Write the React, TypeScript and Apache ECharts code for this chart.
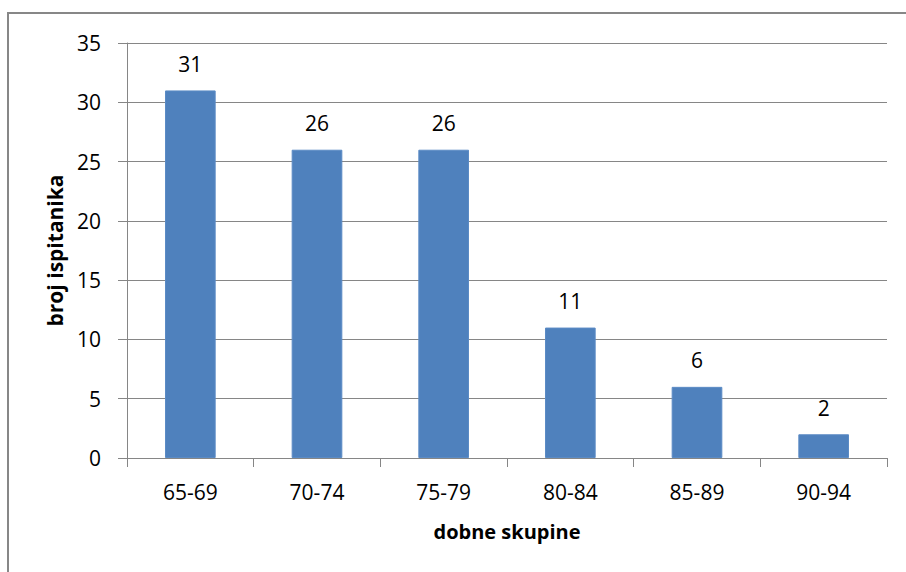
import React, { useEffect, useRef } from "react";
import * as echarts from "echarts";

const categories = ["65-69", "70-74", "75-79", "80-84", "85-89", "90-94"];
const values = [31, 26, 26, 11, 6, 2];
const yTicks = { min: 0, max: 35, interval: 5 };
const xName = "dobne skupine";
const yName = "broj ispitanika";

const FONT = "Open Sans";

export default function App() {
  const ref = useRef<HTMLDivElement>(null);
  useEffect(() => {
    const chart = echarts.init(ref.current!, null, { renderer: "svg" });
    chart.setOption({
      animation: false,
      backgroundColor: "#ffffff",
      graphic: [
        {
          type: "rect",
          shape: { x: 8, y: 13, width: 920, height: 600 },
          style: { fill: "none", stroke: "#878787", lineWidth: 2 },
          silent: true,
          z: -1,
        },
      ],
      grid: { left: 127, right: 19, top: 43, bottom: 114 },
      xAxis: {
        type: "category",
        data: categories,
        name: xName,
        nameLocation: "middle",
        nameGap: 63,
        nameTextStyle: { fontFamily: FONT, fontSize: 20, fontWeight: "bold", color: "#000" },
        axisLine: { lineStyle: { color: "#868686", width: 1 } },
        axisTick: { show: true, length: 9, lineStyle: { color: "#868686" } },
        axisLabel: { fontFamily: FONT, fontSize: 21, color: "#000", margin: 23 },
      },
      yAxis: {
        type: "value",
        min: yTicks.min,
        max: yTicks.max,
        interval: yTicks.interval,
        name: yName,
        nameLocation: "middle",
        nameGap: 62,
        nameTextStyle: { fontFamily: FONT, fontSize: 21, fontWeight: "bold", color: "#000" },
        axisLine: { show: true, lineStyle: { color: "#868686", width: 1 } },
        axisTick: { show: true, length: 9, inside: false, lineStyle: { color: "#868686" } },
        splitLine: { lineStyle: { color: "#868686", width: 1 } },
        axisLabel: { fontFamily: FONT, fontSize: 21, color: "#000", margin: 26 },
      },
      series: [
        {
          type: "bar",
          data: values,
          barWidth: "40%",
          itemStyle: { color: "#4F81BD", borderColor: "#5B8BC5", borderWidth: 1 },
          label: {
            show: true,
            position: "top",
            distance: 16,
            fontFamily: FONT,
            fontSize: 21,
            color: "#000",
          },
        },
      ],
    });
    return () => chart.dispose();
  }, []);
  return <div ref={ref} style={{ width: 906, height: 572, position: "absolute", left: 0, top: 0 }} />;
}
